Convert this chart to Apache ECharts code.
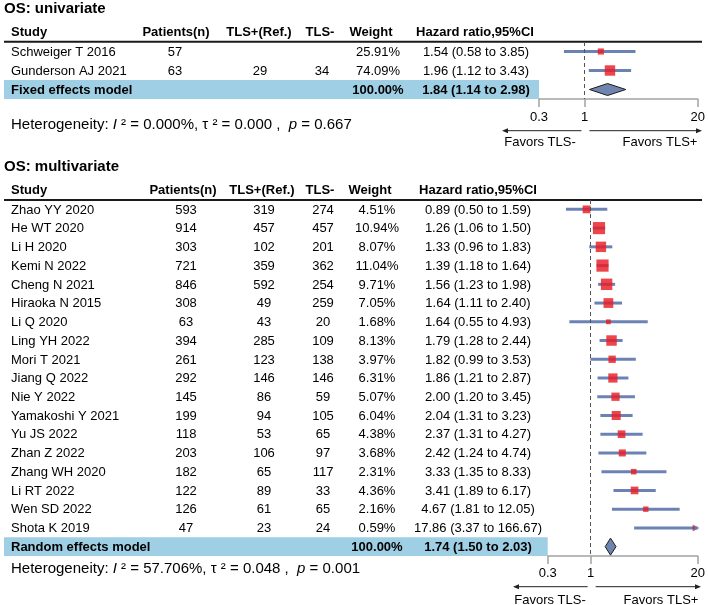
<!DOCTYPE html>
<html><head><meta charset="utf-8">
<script src="https://cdn.jsdelivr.net/npm/echarts@6/dist/echarts.min.js"></script>
<style>html,body{margin:0;padding:0;background:#fff}#c{width:708px;height:605px}</style>
</head><body><div id="c"></div>
<script>
// ---------- DATA: OS univariate ----------
const uniStudies = ["Schweiger T 2016", "Gunderson AJ 2021"];
const uniPatients = [57, 63];
const uniTlsPos = [null, 29];
const uniTlsNeg = [null, 34];
const uniWeight = [25.91, 74.09];
const uniHR = [1.54, 1.96];
const uniLo = [0.58, 1.12];
const uniHi = [3.85, 3.43];
const uniModel = "Fixed effects model";
const uniModelWeight = 100.00;
const uniModelHR = [1.84, 1.14, 2.98]; // estimate, lower, upper
const uniHet = ["0.000%", "0.000", "0.667"]; // I2, tau2, p

// ---------- DATA: OS multivariate ----------
const multiStudies = ["Zhao YY 2020","He WT 2020","Li H 2020","Kemi N 2022","Cheng N 2021","Hiraoka N 2015","Li Q 2020","Ling YH 2022","Mori T 2021","Jiang Q 2022","Nie Y 2022","Yamakoshi Y 2021","Yu JS 2022","Zhan Z 2022","Zhang WH 2020","Li RT 2022","Wen SD 2022","Shota K 2019"];
const multiPatients = [593,914,303,721,846,308,63,394,261,292,145,199,118,203,182,122,126,47];
const multiTlsPos = [319,457,102,359,592,49,43,285,123,146,86,94,53,106,65,89,61,23];
const multiTlsNeg = [274,457,201,362,254,259,20,109,138,146,59,105,65,97,117,33,65,24];
const multiWeight = [4.51,10.94,8.07,11.04,9.71,7.05,1.68,8.13,3.97,6.31,5.07,6.04,4.38,3.68,2.31,4.36,2.16,0.59];
const multiHR = [0.89,1.26,1.33,1.39,1.56,1.64,1.64,1.79,1.82,1.86,2.00,2.04,2.37,2.42,3.33,3.41,4.67,17.86];
const multiLo = [0.50,1.06,0.96,1.18,1.23,1.11,0.55,1.28,0.99,1.21,1.20,1.31,1.31,1.24,1.35,1.89,1.81,3.37];
const multiHi = [1.59,1.50,1.83,1.64,1.98,2.40,4.93,2.44,3.53,2.87,3.45,3.23,4.27,4.74,8.33,6.17,12.05,166.67];
const multiModel = "Random effects model";
const multiModelWeight = 100.00;
const multiModelHR = [1.74, 1.50, 2.03];
const multiHet = ["57.706%", "0.048", "0.001"];

// ---------- shared labels / ticks ----------
const headers = ["Study","Patients(n)","TLS+(Ref.)","TLS-","Weight","Hazard ratio,95%CI"];
const tickValues = [0.3, 1, 20];
const tickLabels = ["0.3","1","20"];
const favorLabels = ["Favors TLS-", "Favors TLS+"];

// ---------- layout / style ----------
const FONT = "'Liberation Sans', Arial, Helvetica, sans-serif";
const C_LINE = '#6d82b4', C_BOX = 'rgba(232,28,36,0.82)', C_DIAM = '#7084b0', C_BAND = '#9fcfe4', C_AXIS = '#a3a3a3';
const TEXT_DY = 0.7;

const sections = [
  { title:"OS: univariate", studies:uniStudies, patients:uniPatients, pos:uniTlsPos, neg:uniTlsNeg,
    weight:uniWeight, hr:uniHR, lo:uniLo, hi:uniHi, model:uniModel, modelWeight:uniModelWeight, modelHR:uniModelHR, het:uniHet,
    L:{ titleY:8.5, headY:32, lineY:41.7, top:42, bottom:99, left:539, right:701,
        colX:[11,175,260,322,378,476], headX:[11,176,259,320,371,475],
        hetY:124.5, arrowY:130.7, favY:142, favX:[540,660], arrowLEnd:502, arrowREnd:702,
        boxMax:10.4, diamondH:12, labelMargin:12 } },
  { title:"OS: multivariate", studies:multiStudies, patients:multiPatients, pos:multiTlsPos, neg:multiTlsNeg,
    weight:multiWeight, hr:multiHR, lo:multiLo, hi:multiHi, model:multiModel, modelWeight:multiModelWeight, modelHR:multiModelHR, het:multiHet,
    L:{ titleY:166.5, headY:190.5, lineY:200, top:200, bottom:556, left:547.7, right:701,
        colX:[11,186,264,323,377,478], headX:[11,183,262,320,370,478],
        hetY:568.5, arrowY:586.7, favY:600.5, favX:[550,661], arrowLEnd:513, arrowREnd:701,
        boxMax:12.2, diamondH:17, labelMargin:11 } }
];

const fmt2 = v => v.toFixed(2);
const hrText = (e,l,h) => fmt2(e) + " (" + fmt2(l) + " to " + fmt2(h) + ")";
const lg = Math.log10;

const grids = [], xAxes = [], yAxes = [], series = [], graphics = [];

sections.forEach((sec, si) => {
  const L = sec.L, n = sec.studies.length;
  const maxW = Math.max.apply(null, sec.weight);
  grids.push({ left:L.left, top:L.top, width:L.right-L.left, height:L.bottom-L.top, containLabel:false });
  yAxes.push({ type:'category', gridIndex:si, inverse:true, show:false, data: sec.studies.concat([sec.model]) });
  xAxes.push({
    type:'value', gridIndex:si, min:lg(tickValues[0]), max:lg(tickValues[tickValues.length-1]),
    axisLine:{ show:true, onZero:false, lineStyle:{ color:C_AXIS, width:1.5 } },
    axisTick:{ show:true, length:8, customValues: tickValues.map(lg), lineStyle:{ color:C_AXIS, width:1.5 } },
    axisLabel:{ customValues: tickValues.map(lg), margin:L.labelMargin, color:'#000', fontSize:13, fontFamily:FONT,
      formatter: v => { const i = tickValues.findIndex(t => Math.abs(lg(t)-v) < 1e-6); return i>=0 ? tickLabels[i] : ''; } },
    splitLine:{ show:false }
  });

  // ---- table (text columns + summary band)
  const tableData = [];
  for (let i = 0; i <= n; i++) tableData.push([0, i]);
  series.push({
    type:'custom', xAxisIndex:si, yAxisIndex:si, clip:false, z:1, silent:true,
    data: tableData,
    renderItem: (params, api) => {
      const row = api.value(1);
      const yc = api.coord([0, row])[1];
      const cs = params.coordSys;
      const isSum = row === n;
      const t = (txt, x, align, bold) => ({ type:'text', x:x, y:yc + TEXT_DY,
        style:{ text: txt, font:(bold?'bold ':'') + '13px ' + FONT, fill:'#000', align:align, verticalAlign:'middle' } });
      const ch = [];
      if (isSum) {
        const bh = api.size([0, 1])[1];
        ch.push({ type:'rect', shape:{ x:4, y:yc-bh/2, width:cs.x-4, height:bh }, style:{ fill:C_BAND } });
        ch.push(t(sec.model, L.colX[0], 'left', true));
        ch.push(t(fmt2(sec.modelWeight) + '%', L.colX[4], 'center', true));
        ch.push(t(hrText(sec.modelHR[0], sec.modelHR[1], sec.modelHR[2]), L.colX[5], 'center', true));
      } else {
        ch.push(t(sec.studies[row], L.colX[0], 'left', false));
        ch.push(t(String(sec.patients[row]), L.colX[1], 'center', false));
        if (sec.pos[row] != null) ch.push(t(String(sec.pos[row]), L.colX[2], 'center', false));
        if (sec.neg[row] != null) ch.push(t(String(sec.neg[row]), L.colX[3], 'center', false));
        ch.push(t(fmt2(sec.weight[row]) + '%', L.colX[4], 'center', false));
        ch.push(t(hrText(sec.hr[row], sec.lo[row], sec.hi[row]), L.colX[5], 'center', false));
      }
      return { type:'group', children: ch };
    }
  });

  // ---- forest marks
  const forestData = sec.hr.map((h, i) => [lg(sec.lo[i]), lg(sec.hi[i]), lg(h), sec.weight[i], i, 0]);
  forestData.push([lg(sec.modelHR[1]), lg(sec.modelHR[2]), lg(sec.modelHR[0]), sec.modelWeight, n, 1]);
  series.push({
    type:'custom', xAxisIndex:si, yAxisIndex:si, clip:false, z:3, silent:true,
    data: forestData,
    renderItem: (params, api) => {
      const cs = params.coordSys;
      const row = api.value(4);
      const yc = api.coord([0, row])[1];
      const xlo = api.coord([api.value(0), row])[0];
      const xhi = api.coord([api.value(1), row])[0];
      const xe = api.coord([api.value(2), row])[0];
      const x0 = cs.x, x1 = cs.x + cs.width;
      if (api.value(5) === 1) {
        const h = L.diamondH / 2;
        return { type:'polygon', shape:{ points:[[xlo,yc],[xe,yc-h],[xhi,yc],[xe,yc+h]] },
                 style:{ fill:C_DIAM, stroke:'#1c1c1c', lineWidth:1 } };
      }
      const cl = Math.max(xlo, x0), chx = Math.min(xhi, x1);
      const ch = [{ type:'line', shape:{ x1:cl, y1:yc, x2:chx, y2:yc }, style:{ stroke:C_LINE, lineWidth:3 } }];
      if (xhi > x1) ch.push({ type:'polygon', shape:{ points:[[x1+1.5,yc],[x1-5,yc-3.5],[x1-5,yc+3.5]] }, style:{ fill:C_LINE } });
      const s = L.boxMax * Math.sqrt(api.value(3) / maxW);
      ch.push({ type:'rect', shape:{ x:xe-s/2, y:yc-s/2, width:s, height:s }, style:{ fill:C_BOX } });
      return { type:'group', children: ch };
    },
    markLine:{ silent:true, symbol:['none','none'], label:{ show:false },
      lineStyle:{ color:'#555', width:1, type:[4,3] }, data:[{ xAxis: lg(1) }] }
  });

  // ---- titles, headers, rules, heterogeneity, arrows
  graphics.push({ type:'text', x:4, y:L.titleY, style:{ text:sec.title, font:'bold 15px ' + FONT, fill:'#000', verticalAlign:'middle' } });
  headers.forEach((h, k) => graphics.push({ type:'text', x:L.headX[k], y:L.headY,
    style:{ text:h, font:'bold 13px ' + FONT, fill:'#000', align: k===0 ? 'left' : 'center', verticalAlign:'middle' } }));
  graphics.push({ type:'line', shape:{ x1:4, y1:L.lineY, x2:702, y2:L.lineY }, style:{ stroke:'#1a1a1a', lineWidth:2 } });
  graphics.push({ type:'text', x:11, y:L.hetY, style:{
    text:'Heterogeneity: {i|I} ² = ' + sec.het[0] + ', τ ² = ' + sec.het[1] + ' ,  {i|p} = ' + sec.het[2],
    font:'15px ' + FONT, fill:'#000', verticalAlign:'middle',
    rich:{ i:{ fontStyle:'italic', fontSize:15, fontFamily:FONT, fill:'#000' } } } });

  // arrows around the null line (x = 1)
  const xNull = L.left + (L.right - L.left) * (lg(1) - lg(tickValues[0])) / (lg(tickValues[2]) - lg(tickValues[0]));
  const ay = L.arrowY;
  graphics.push({ type:'line', shape:{ x1:xNull-4, y1:ay, x2:L.arrowLEnd+4, y2:ay }, style:{ stroke:'#222', lineWidth:1 } });
  graphics.push({ type:'polygon', shape:{ points:[[L.arrowLEnd,ay],[L.arrowLEnd+6,ay-2.5],[L.arrowLEnd+6,ay+2.5]] }, style:{ fill:'#222' } });
  graphics.push({ type:'line', shape:{ x1:xNull+4, y1:ay, x2:L.arrowREnd-4, y2:ay }, style:{ stroke:'#222', lineWidth:1 } });
  graphics.push({ type:'polygon', shape:{ points:[[L.arrowREnd,ay],[L.arrowREnd-6,ay-2.5],[L.arrowREnd-6,ay+2.5]] }, style:{ fill:'#222' } });
  favorLabels.forEach((f, k) => graphics.push({ type:'text', x:L.favX[k], y:L.favY,
    style:{ text:f, font:'13px ' + FONT, fill:'#000', align:'center', verticalAlign:'middle' } }));
});

const chart = echarts.init(document.getElementById('c'), null, { renderer:'canvas' });
chart.setOption({
  animation:false,
  backgroundColor:'#fff',
  grid: grids, xAxis: xAxes, yAxis: yAxes, series: series,
  graphic: { elements: graphics }
});
</script>
</body></html>
